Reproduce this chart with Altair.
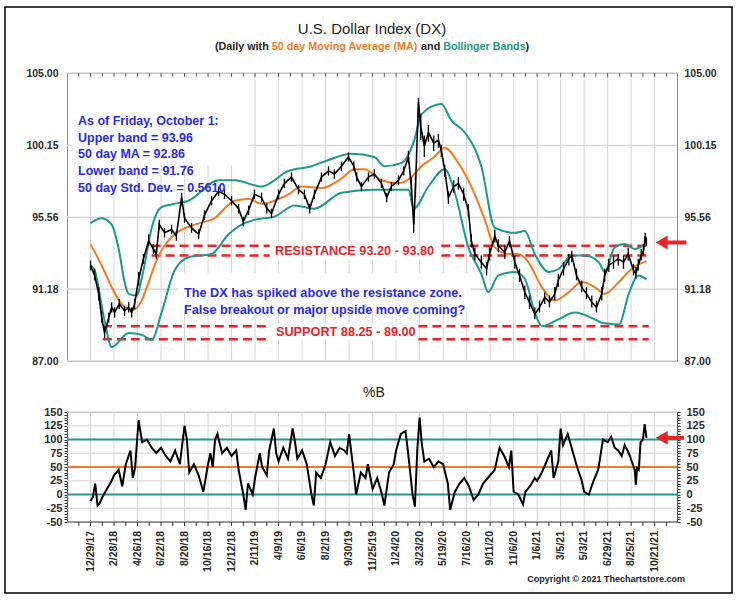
import altair as alt
import pandas as pd

FONT = "Liberation Sans"
TEAL = "#1d9a8c"
ORANGE = "#f47a1f"
RED = "#e8242a"
BLUE = "#2b2be2"
GRID = "#d6d6d6"

# ---------------- data (x = trading days counted from 12/29/17) ----------------
price_day = [0, 7, 14, 19, 24, 31, 36, 41, 49, 58, 65, 70, 75, 82, 90, 99, 107, 112, 117, 126,
             138, 146, 155, 160, 172, 184, 194, 206, 218, 228, 240, 252, 260, 269, 279, 291, 300, 308, 320, 330,
             342, 354, 364, 373, 381, 393, 405, 415, 427, 439, 448, 453, 461, 473, 483, 495, 504, 512, 524, 533,
             541, 546, 550, 553, 558, 562, 568, 575, 584, 592, 597, 603, 609, 618, 626, 635, 643, 648, 654, 665,
             674, 679, 688, 694, 705, 713, 722, 730, 739, 747, 756, 764, 773, 781, 790, 796, 805, 814, 819, 827,
             836, 844, 853, 861, 870, 875, 882, 890, 898, 907, 915, 924, 928, 932, 937, 941, 944, 946]
price_close = [92.6, 92.0, 90.9, 89.5, 88.6, 89.5, 90.1, 89.8, 90.3, 89.9,
               90.1, 89.8, 90.3, 91.8, 93.0, 94.1, 93.6, 93.3, 95.1, 94.6,
               94.8, 94.4, 96.8, 95.5, 94.9, 94.5, 95.7, 96.6, 97.2, 97.0,
               96.6, 96.1, 95.3, 96.0, 97.0, 96.8, 96.1, 95.8, 97.0, 97.7,
               98.1, 97.3, 97.0, 96.1, 97.0, 98.1, 98.5, 98.3, 98.8, 99.4,
               98.8, 98.1, 97.5, 98.1, 98.3, 97.7, 96.8, 97.5, 97.9, 98.5,
               99.4, 97.5, 95.1, 97.5, 103.0, 101.4, 100.1, 101.0, 100.3, 100.5,
               99.8, 98.5, 96.8, 97.5, 97.7, 97.0, 96.0, 94.1, 93.3, 92.8,
               92.4, 93.3, 94.4, 93.8, 93.4, 94.1, 92.8, 92.0, 91.0, 90.4,
               89.7, 90.1, 90.7, 90.4, 90.9, 91.7, 92.4, 93.0, 93.2, 92.0,
               91.3, 90.9, 90.4, 90.1, 90.9, 92.0, 92.6, 92.8, 93.0, 92.8,
               93.3, 92.3, 92.1, 92.6, 93.2, 93.5, 94.4, 94.0]
price_high = [92.9, 92.4, 91.3, 89.9, 89.0, 89.8, 90.4, 90.1, 90.6, 90.2,
              90.4, 90.1, 90.6, 92.2, 93.3, 94.5, 93.9, 93.6, 95.4, 94.9,
              95.1, 94.7, 97.1, 95.8, 95.2, 94.8, 96.0, 96.9, 97.5, 97.3,
              96.9, 96.4, 95.6, 96.3, 97.3, 97.1, 96.4, 96.1, 97.3, 98.0,
              98.4, 97.6, 97.3, 96.4, 97.3, 98.4, 98.8, 98.6, 99.1, 99.7,
              99.1, 98.4, 97.8, 98.4, 98.6, 98.0, 97.1, 97.8, 98.2, 98.8,
              99.8, 98.1, 96.0, 98.2, 103.3, 102.2, 100.8, 101.5, 100.8, 100.9,
              100.2, 98.9, 97.2, 97.9, 98.1, 97.4, 96.4, 94.5, 93.7, 93.2,
              92.8, 93.7, 94.8, 94.2, 93.8, 94.4, 93.2, 92.4, 91.4, 90.8,
              90.1, 90.5, 91.0, 90.8, 91.3, 92.1, 92.8, 93.3, 93.5, 92.4,
              91.7, 91.3, 90.8, 90.5, 91.3, 92.4, 93.0, 93.2, 93.3, 93.2,
              93.7, 92.7, 92.5, 93.0, 93.6, 93.9, 94.6, 94.3]
price_low = [92.3, 91.7, 90.5, 89.2, 88.3, 89.2, 89.8, 89.5, 90.0, 89.6,
             89.8, 89.5, 90.0, 91.4, 92.7, 93.8, 93.3, 93.0, 94.8, 94.3,
             94.5, 94.1, 96.3, 95.2, 94.6, 94.2, 95.4, 96.3, 96.9, 96.7,
             96.3, 95.8, 95.0, 95.7, 96.7, 96.5, 95.8, 95.5, 96.7, 97.4,
             97.8, 97.0, 96.7, 95.8, 96.7, 97.8, 98.2, 98.0, 98.5, 99.1,
             98.5, 97.8, 97.2, 97.8, 98.0, 97.4, 96.5, 97.2, 97.6, 98.2,
             99.0, 96.9, 94.6, 96.8, 102.0, 100.5, 99.4, 100.4, 99.8, 100.0,
             99.4, 98.1, 96.4, 97.1, 97.3, 96.6, 95.6, 93.7, 92.9, 92.4,
             92.0, 92.9, 94.0, 93.4, 93.0, 93.7, 92.4, 91.6, 90.6, 90.0,
             89.4, 89.8, 90.3, 90.1, 90.5, 91.3, 92.0, 92.6, 92.8, 91.7,
             91.0, 90.6, 90.1, 89.8, 90.5, 91.6, 92.2, 92.4, 92.6, 92.4,
             92.9, 92.0, 91.8, 92.3, 92.9, 93.2, 94.0, 93.8]

ma_day = [0, 19, 36, 53, 73, 87, 99, 109, 116, 126, 143, 177, 211, 245, 269, 291, 313, 337, 359, 393,
          427, 449, 466, 495, 524, 546, 563, 585, 603, 626, 648, 671, 688, 711, 728, 745, 768, 790, 814, 836,
          858, 875, 899, 921, 946]
ma_value = [93.9, 92.6, 91.3, 90.3, 89.95, 90.5, 91.6, 92.6, 93.2, 93.8, 94.5, 95.1, 95.5, 96.6, 96.7,
            96.4, 96.6, 97.0, 97.5, 97.4, 98.0, 98.6, 98.6, 97.9, 97.7, 98.1, 98.8, 99.4, 100.0, 99.0,
            97.5, 95.4, 93.7, 93.3, 93.3, 92.8, 91.3, 90.5, 91.0, 91.6, 91.3, 90.9, 91.6, 92.4, 92.86]

upper_day = [0, 19, 36, 48, 58, 65, 78, 90, 104, 121, 143, 167, 218, 245, 291, 337, 376, 405, 444, 483,
             500, 529, 551, 563, 597, 614, 637, 665, 688, 722, 739, 756, 780, 797, 819, 841, 865, 875, 892, 909,
             926, 946]
upper_value = [95.2, 95.5, 95.1, 93.6, 91.6, 90.9, 90.8, 92.3, 94.9, 96.2, 96.4, 96.6, 97.9, 97.9, 97.5,
               98.5, 98.8, 99.2, 99.6, 99.4, 98.8, 99.0, 100.5, 102.2, 102.9, 101.8, 101.0, 98.8, 94.9, 94.6,
               94.7, 93.3, 92.2, 92.4, 93.2, 93.2, 92.8, 92.2, 93.7, 93.9, 93.6, 93.96]

lower_day = [0, 7, 24, 36, 65, 87, 104, 121, 143, 167, 206, 235, 257, 279, 313, 347, 381, 427, 483, 541,
             550, 575, 603, 620, 643, 665, 677, 694, 722, 739, 756, 768, 796, 824, 858, 870, 899, 916,
             932, 946]
lower_value = [92.6, 92.3, 89.3, 87.8, 88.6, 88.5, 88.2, 89.8, 92.3, 93.1, 93.3, 94.5, 95.1, 95.4, 95.6,
               96.3, 96.1, 97.1, 97.3, 97.3, 96.1, 97.5, 98.6, 97.1, 93.7, 92.1, 91.0, 92.0,
               92.2, 91.8, 89.8, 89.0, 89.4, 89.8, 89.4, 89.2, 89.1, 90.9, 92.0, 91.76]

pctb_day = [0, 4, 8, 12, 16, 20, 28, 36, 40, 48, 54, 60, 68, 72, 76, 80, 82, 84, 88, 96,
            104, 112, 120, 128, 136, 144, 152, 156, 160, 164, 168, 176, 184, 192, 200, 204, 208, 212, 216, 224,
            232, 240, 248, 252, 260, 264, 268, 276, 280, 288, 292, 300, 304, 312, 316, 320, 328, 336, 344, 348,
            352, 360, 368, 376, 380, 384, 392, 400, 408, 416, 424, 432, 436, 440, 444, 448, 452, 460, 468, 472,
            480, 488, 496, 500, 508, 516, 520, 528, 536, 540, 548, 552, 556, 560, 564, 568, 576, 584, 592, 600,
            608, 612, 620, 628, 636, 644, 652, 660, 668, 676, 680, 688, 696, 704, 712, 716, 720, 728, 736, 740,
            748, 756, 760, 768, 776, 784, 788, 796, 800, 804, 812, 820, 828, 836, 840, 848, 856, 864, 872, 880,
            886, 892, 898, 904, 909, 916, 921, 926, 928, 930, 933, 936, 940, 943, 946]
pctb_value = [-12, -5, 20, -20, -15, -5, 10, 25, 35, 45, 15, 55, 80, 30, 50, 110, 135, 120, 95, 100,
              85, 75, 85, 70, 60, 80, 55, 90, 125, 100, 40, 55, 35, 5, 55, 75, 50, 100, 110, 75,
              85, 70, 80, 45, 0, -28, 20, 0, 30, 75, 50, 35, 80, 120, 75, 60, 85, 65, 120, 95,
              65, 80, 55, 0, -20, 40, 30, 55, 95, 70, 85, 80, 75, 110, 75, 40, 0, 40, 30, 55,
              10, 30, 0, -20, 40, 55, 80, 110, 115, 80, 0, -22, 80, 140, 90, 60, 65, 50, 60, 55,
              20, -28, 5, 20, 30, 15, -10, 0, 20, 30, 35, 45, 85, 70, 50, 80, 5, 0, -18, 5,
              15, 30, 25, 40, 60, 80, 30, 60, 120, 90, 110, 80, 50, 25, 5, 0, 25, 45, 100, 95,
              105, 85, 80, 70, 90, 75, 60, 45, 18, 48, 45, 95, 100, 128, 103]

date_labels = ["12/29/17", "2/28/18", "4/26/18", "6/22/18", "8/20/18", "10/16/18", "12/12/18",
               "2/11/19", "4/9/19", "6/6/19", "8/2/19", "9/30/19", "11/25/19", "1/24/20", "3/23/20",
               "5/19/20", "7/16/20", "9/11/20", "11/6/20", "1/6/21", "3/5/21", "5/3/21", "6/29/21",
               "8/25/21", "10/21/21"]
label_step = 40
label_days = [i * label_step for i in range(len(date_labels))]
minor_days = list(range(-20, 981, 20))

price_ticks = [87.00, 91.18, 95.56, 100.15, 105.00]
pctb_ticks = list(range(-50, 151, 25))
pctb_minor = list(range(-50, 151, 5))
pctb_teal_levels = [0, 100]
pctb_orange_levels = [50]

resistance_levels = [93.20, 93.80]
support_levels = [88.25, 89.00]
resistance_spans = [(104, 305), (597, 950)]
support_spans = [(21, 305), (558, 950)]

info_lines = ["As of Friday, October 1:", "Upper band = 93.96", "50 day MA = 92.86",
              "Lower band = 91.76", "50 day Std. Dev. = 0.5610"]
note_lines = ["The DX has spiked above the resistance zone.",
              "False breakout or major upside move coming?"]

arrow_top = {"tip": 963, "tail": 1014, "level": 94.0}
arrow_bottom = {"tip": 963, "tail": 1010, "level": 103}

assert len(price_day) == len(price_close) == len(price_high) == len(price_low)
assert len(ma_day) == len(ma_value)
assert len(upper_day) == len(upper_value)
assert len(lower_day) == len(lower_value)
assert len(pctb_day) == len(pctb_value)

# ---------------- scales ----------------
W, H1, H2 = 610, 288, 110
xs = alt.Scale(domain=[-40, 998], nice=False, zero=False)
ys1 = alt.Scale(type="log", domain=[87, 105], nice=False)
ys2 = alt.Scale(domain=[-50, 150], nice=False, zero=False)
one = pd.DataFrame({"a": [0]})


def X(field):
    return alt.X(field, type="quantitative", scale=xs, axis=None)


def Y1(field):
    return alt.Y(field, type="quantitative", scale=ys1, axis=None)


def Y2(field):
    return alt.Y(field, type="quantitative", scale=ys2, axis=None)


def label(text, x, y, size, color="#222", weight="normal", align="left", **kw):
    return alt.Chart(one).mark_text(text=text, align=align, baseline="middle", font=FONT,
                                     fontSize=size, fontWeight=weight, color=color, **kw
                                     ).encode(x=alt.value(x), y=alt.value(y))


def box(x, x2, y, y2):
    return alt.Chart(one).mark_rect(fill="white").encode(
        x=alt.value(x), x2=alt.value(x2), y=alt.value(y), y2=alt.value(y2))


def arrow(spec, yenc):
    df = pd.DataFrame({"tip": [spec["tip"]], "tail": [spec["tail"]], "level": [spec["level"]]})
    df["shaft"] = df["tip"] + 14
    df["head"] = df["tip"] + 9
    shaft = alt.Chart(df).mark_rule(color=RED, strokeWidth=4).encode(
        x=X("shaft:Q"), x2="tail:Q", y=yenc("level:Q"))
    head = alt.Chart(df).mark_point(shape="triangle-left", filled=True, size=190, color=RED,
                                    opacity=1).encode(x=X("head:Q"), y=yenc("level:Q"))
    return shaft + head


def yaxis(orient, values, pad, size, fmt=None, label_expr=None, ticks=False, domain=False):
    kw = dict(orient=orient, values=values, grid=False, ticks=ticks, domain=domain,
              labelPadding=pad, labelFont=FONT, labelFontSize=size, labelFontWeight="bold",
              labelColor="#2a2a2a", title=None)
    if fmt:
        kw["format"] = fmt
    if label_expr:
        kw["labelExpr"] = label_expr
    if ticks:
        kw.update(tickSize=3, tickColor="#333", tickWidth=1)
    if domain:
        kw.update(domainColor="#555")
    return alt.Axis(**kw)


# ---------------- upper panel ----------------
vgrid1 = alt.Chart(pd.DataFrame({"day": label_days})).mark_rule(color=GRID).encode(x=X("day:Q"))
tick_df = pd.DataFrame({"v": price_ticks})
hgrid1_l = alt.Chart(tick_df).mark_rule(color=GRID).encode(
    y=alt.Y("v:Q", scale=ys1, axis=yaxis("left", price_ticks, 9, 10.5, fmt=".2f")))
hgrid1_r = alt.Chart(tick_df).mark_rule(color=GRID).encode(
    y=alt.Y("v:Q", scale=ys1, axis=yaxis("right", price_ticks, 7, 10.5, fmt=".2f")))
top_ticks = alt.Chart(pd.DataFrame({"day": minor_days})).mark_rule(color="#666").encode(
    x=X("day:Q"), y=alt.value(0), y2=alt.value(4))

level_rows = []
for lv in resistance_levels:
    for s, e in resistance_spans:
        level_rows.append({"level": lv, "start": s, "end": e})
for lv in support_levels:
    for s, e in support_spans:
        level_rows.append({"level": lv, "start": s, "end": e})
levels = alt.Chart(pd.DataFrame(level_rows)).mark_rule(
    color=RED, strokeWidth=2.5, strokeDash=[9, 5]).encode(x=X("start:Q"), x2="end:Q", y=Y1("level:Q"))

upper_line = alt.Chart(pd.DataFrame({"day": upper_day, "v": upper_value})).mark_line(
    color=TEAL, strokeWidth=2, interpolate="monotone").encode(x=X("day:Q"), y=Y1("v:Q"))
lower_line = alt.Chart(pd.DataFrame({"day": lower_day, "v": lower_value})).mark_line(
    color=TEAL, strokeWidth=2, interpolate="monotone").encode(x=X("day:Q"), y=Y1("v:Q"))
ma_line = alt.Chart(pd.DataFrame({"day": ma_day, "v": ma_value})).mark_line(
    color=ORANGE, strokeWidth=2, interpolate="monotone").encode(x=X("day:Q"), y=Y1("v:Q"))
price_df = pd.DataFrame({"day": price_day, "v": price_close, "hi": price_high, "lo": price_low})
price_bars = alt.Chart(price_df).mark_rule(color="black", strokeWidth=1.3).encode(
    x=X("day:Q"), y=Y1("lo:Q"), y2="hi:Q")
price_line = alt.Chart(price_df).mark_line(color="black", strokeWidth=1.6).encode(
    x=X("day:Q"), y=Y1("v:Q"))

info = alt.Chart(one).mark_text(text=info_lines, align="left", baseline="middle", font=FONT,
                                fontSize=12.5, fontWeight="bold", color=BLUE, lineHeight=16.7
                                ).encode(x=alt.value(11), y=alt.value(48))
note = alt.Chart(one).mark_text(text=note_lines, align="left", baseline="middle", font=FONT,
                                fontSize=12.7, fontWeight="bold", color=BLUE, lineHeight=17.3
                                ).encode(x=alt.value(117), y=alt.value(219.5))

title_pieces = [("(Daily with", 148, "#222"), ("50 day Moving Average (MA)", 204.8, ORANGE),
                ("and", 354.1, "#222"), ("Bollinger Bands", 376.2, TEAL), (")", 458.5, "#222")]

upper_layers = [vgrid1, hgrid1_l, hgrid1_r,
                box(5, 181, 3, 92), box(111, 404, 200, 238), box(203, 373, 169, 187), box(204, 352, 250, 267),
                top_ticks, levels, upper_line, lower_line, ma_line, price_bars, price_line,
                info, note,
                label("RESISTANCE 93.20 - 93.80", 208, 178, 12.7, RED, "bold"),
                label("SUPPORT 88.25 - 89.00", 209, 258.7, 12.7, RED, "bold"),
                arrow(arrow_top, Y1),
                label("U.S. Dollar Index (DX)", 305, -44, 15, "#222", align="center")]
for txt, px, col in title_pieces:
    upper_layers.append(label(txt, px, -26, 10.75, col, "bold"))
upper_layers.append(alt.Chart(one).mark_rect(fillOpacity=0, stroke="black", strokeWidth=1.5).encode(
    x=alt.value(-62), x2=alt.value(665), y=alt.value(-66), y2=alt.value(520)))

upper = alt.layer(*upper_layers).resolve_axis(y="independent").properties(width=W, height=H1)

# ---------------- lower panel ----------------
vgrid2 = alt.Chart(pd.DataFrame({"day": label_days})).mark_rule(color=GRID).encode(x=X("day:Q"))
bottom_ticks = alt.Chart(pd.DataFrame({"day": minor_days})).mark_rule(color="#333").encode(
    x=X("day:Q"), y=alt.value(H2), y2=alt.value(H2 + 4))
bottom_line = alt.Chart(one).mark_rule(color="#555").encode(
    x=alt.value(0), x2=alt.value(W), y=alt.value(H2))
date_text = alt.Chart(pd.DataFrame({"day": label_days, "lab": date_labels})).mark_text(
    angle=270, align="right", baseline="middle", font=FONT, fontSize=10.5, fontWeight="bold",
    color="#2a2a2a").encode(x=X("day:Q"), y=alt.value(H2 + 9), text="lab:N")

lab25 = "datum.value % 25 === 0 ? '' + datum.value : ''"
ptick_df = pd.DataFrame({"v": pctb_ticks})
hgrid2_l = alt.Chart(ptick_df).mark_rule(color="#e4dcdc").encode(
    y=alt.Y("v:Q", scale=ys2, axis=yaxis("left", pctb_minor, 2, 11, label_expr=lab25, ticks=True, domain=True)))
hgrid2_r = alt.Chart(ptick_df).mark_rule(color="#e4dcdc").encode(
    y=alt.Y("v:Q", scale=ys2, axis=yaxis("right", pctb_minor, 6, 11, label_expr=lab25, ticks=True, domain=True)))
teal_lv = alt.Chart(pd.DataFrame({"v": pctb_teal_levels})).mark_rule(color=TEAL, strokeWidth=2).encode(y=Y2("v:Q"))
orange_lv = alt.Chart(pd.DataFrame({"v": pctb_orange_levels})).mark_rule(color=ORANGE, strokeWidth=2).encode(y=Y2("v:Q"))
pctb_line = alt.Chart(pd.DataFrame({"day": pctb_day, "v": pctb_value})).mark_line(
    color="black", strokeWidth=2).encode(x=X("day:Q"), y=Y2("v:Q"))

lower = alt.layer(
    vgrid2, hgrid2_l, hgrid2_r, teal_lv, orange_lv, pctb_line,
    bottom_line, bottom_ticks, date_text,
    arrow(arrow_bottom, Y2),
    label("%B", 307, -19, 14, "#222", align="center"),
    label("Copyright \u00a9 2021 Thechartstore.com", 618, 167, 9, "#222", "bold", align="right"),
).resolve_axis(y="independent").properties(width=W, height=H2)

chart = alt.vconcat(upper, lower, spacing=51, bounds="flush").configure_view(
    stroke="#8c8c8c", strokeWidth=1).properties(
    padding={"left": 3, "top": 5, "right": 0, "bottom": 0}, background="white")

chart.save("out.html", embed_options={"renderer": "svg", "actions": False})
